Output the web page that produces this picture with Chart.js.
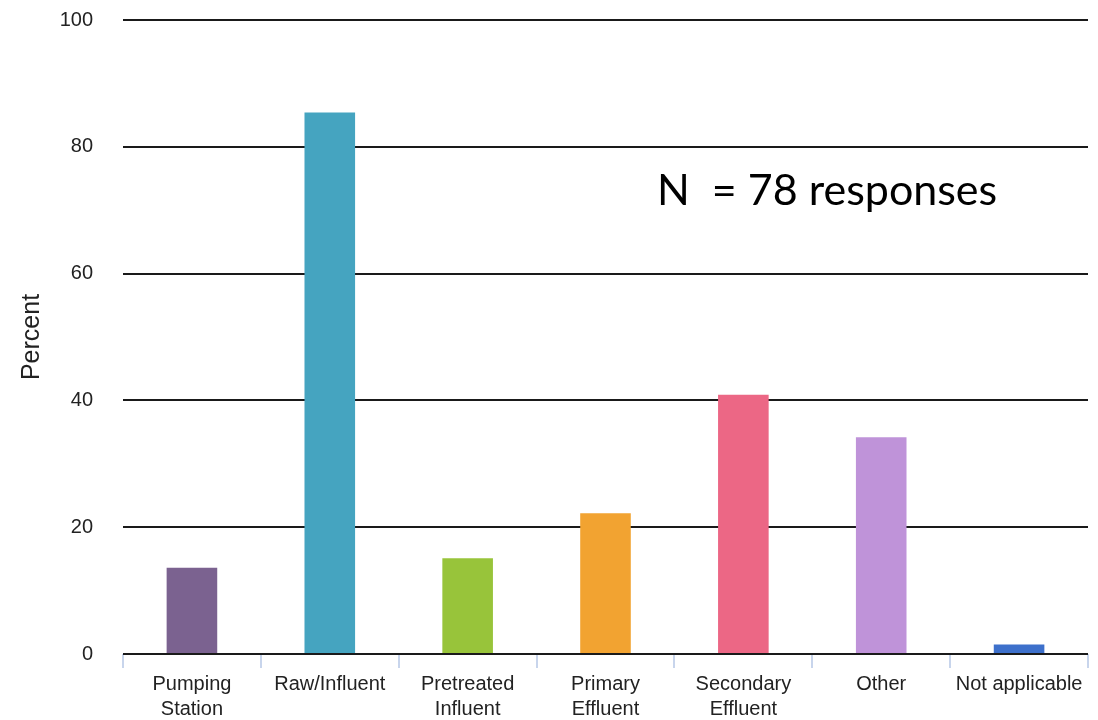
<!DOCTYPE html>
<html>
<head>
<meta charset="utf-8">
<script src="https://cdn.jsdelivr.net/npm/chart.js@4/dist/chart.umd.min.js"></script>
<style>
  html, body { margin: 0; padding: 0; background: #ffffff; }
  #wrap { width: 1098px; height: 720px; position: relative; }
</style>
</head>
<body>
<div id="wrap"><canvas id="chart" width="1098" height="720"></canvas></div>
<script>
// Sampling locations reported by respondents (percent of responses)
const categories = [
  ['Pumping', 'Station'],
  'Raw/Influent',
  ['Pretreated', 'Influent'],
  ['Primary', 'Effluent'],
  ['Secondary', 'Effluent'],
  'Other',
  'Not applicable'
];
const percentValues = [13.6, 85.4, 15.1, 22.2, 40.9, 34.2, 1.5];
const barColors = ['#7b6290', '#45a4c0', '#98c43a', '#f2a331', '#ec6785', '#bf93d9', '#3d70cb'];
const yTickValues = [0, 20, 40, 60, 80, 100];
const noteText = 'N  = 78 responses';

// Free-floating note drawn over the plot
const notePlugin = {
  id: 'noteText',
  afterDraw(chart) {
    const ctx = chart.ctx;
    ctx.save();
    ctx.font = '43px Lato, "Open Sans", sans-serif';
    ctx.fillStyle = '#000000';
    ctx.textAlign = 'left';
    ctx.textBaseline = 'alphabetic';
    ctx.fillText(noteText, 657, 205);
    ctx.restore();
  }
};

new Chart(document.getElementById('chart'), {
  type: 'bar',
  data: {
    labels: categories,
    datasets: [{
      data: percentValues,
      backgroundColor: barColors,
      borderWidth: 0,
      barPercentage: 0.367,
      categoryPercentage: 1.0
    }]
  },
  options: {
    responsive: false,
    animation: false,
    devicePixelRatio: 1,
    layout: { padding: { left: 10, right: 10, top: 20, bottom: 0 } },
    plugins: {
      legend: { display: false },
      tooltip: { enabled: false }
    },
    scales: {
      x: {
        grid: {
          display: true,
          drawOnChartArea: false,
          drawTicks: true,
          tickLength: 14,
          color: '#c8d5ec',
          lineWidth: 2,
          offset: true
        },
        border: { display: false },
        ticks: {
          autoSkip: false,
          maxRotation: 0,
          padding: 4,
          color: '#222222',
          font: { family: '"Liberation Sans", Arial, sans-serif', size: 20, lineHeight: 1.25 }
        },
        afterFit(scale) {
          scale.height = 66;
          scale.paddingLeft = 0;
          scale.paddingRight = 0;
        }
      },
      y: {
        min: 0,
        max: 100,
        afterBuildTicks(scale) { scale.ticks = yTickValues.map(v => ({ value: v })); },
        grid: { color: '#1a1a1a', lineWidth: 2, drawTicks: false },
        border: { display: false },
        ticks: {
          padding: 30,
          color: '#222222',
          font: { family: '"Liberation Sans", Arial, sans-serif', size: 20 }
        },
        title: {
          display: true,
          text: 'Percent',
          color: '#222222',
          padding: { top: 7, bottom: 0 },
          font: { family: '"Liberation Sans", Arial, sans-serif', size: 25 }
        },
        afterFit(scale) {
          scale.width = 113;
          scale.paddingTop = 0;
          scale.paddingBottom = 0;
        }
      }
    }
  },
  plugins: [notePlugin]
});
</script>
</body>
</html>
